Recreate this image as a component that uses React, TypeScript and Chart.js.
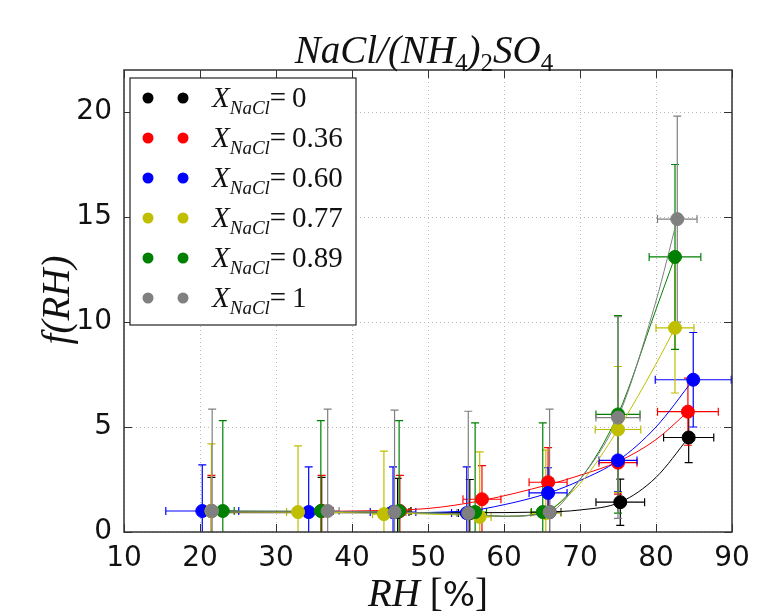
import React, { useEffect, useRef } from 'react';
import { Chart, registerables } from 'chart.js';
Chart.register(...registerables);

// ---- data ----
const seriesLabels = ['0', '0.36', '0.60', '0.77', '0.89', '1'];
const seriesColors = ['#000000', '#ff0000', '#0000ff', '#bfbf00', '#008000', '#808080'];

const rhBlack = [21.5, 36.0, 46.0, 55.5, 66.0, 75.3, 84.3];
const fBlack = [1.0, 1.0, 0.95, 0.9, 0.95, 1.42, 4.5];
const rhErrBlack = [1.5, 1.5, 1.5, 1.5, 1.5, 3.2, 3.3];
const fErrBlack = [1.6, 1.6, 1.6, 1.6, 1.6, 1.1, 1.2];
const fitRhBlack = [21.5, 40, 55, 65, 70, 75.3, 80, 84.3];
const fitFBlack = [0.92, 0.92, 0.92, 0.95, 1.05, 1.42, 2.6, 4.5];

const rhRed = [21.5, 36.0, 46.3, 57.1, 65.8, 75.0, 84.2];
const fRed = [1.0, 1.0, 1.0, 1.56, 2.37, 3.3, 5.73];
const rhErrRed = [1.5, 1.5, 1.5, 2.5, 2.5, 2.5, 4.0];
const fErrRed = [1.7, 1.7, 1.7, 1.6, 1.65, 1.5, 1.6];
const fitRhRed = [20, 40, 50, 57.1, 65.8, 70, 75, 80, 84.2];
const fitFRed = [0.95, 1.0, 1.12, 1.5, 2.25, 2.7, 3.35, 4.4, 5.73];

const rhBlue = [20.3, 34.3, 45.4, 55.1, 65.8, 75.0, 84.9];
const fBlue = [1.0, 0.95, 0.95, 0.9, 1.86, 3.41, 7.25];
const rhErrBlue = [4.8, 2.0, 3.0, 2.0, 2.5, 2.5, 5.0];
const fErrBlue = [2.2, 2.15, 2.15, 2.2, 1.2, 1.5, 2.25];
const fitRhBlue = [20.3, 45, 55, 60, 65.8, 70, 75, 80, 84.9];
const fitFBlue = [0.95, 0.92, 1.0, 1.3, 1.85, 2.45, 3.4, 5.0, 7.25];

const rhYellow = [21.5, 32.9, 44.2, 56.8, 65.5, 75.0, 82.5];
const fYellow = [1.0, 0.95, 0.85, 0.72, 0.9, 4.88, 9.72];
const rhErrYellow = [1.5, 1.5, 1.5, 1.5, 2.0, 3.0, 2.5];
const fErrYellow = [3.2, 3.15, 3.0, 3.1, 3.0, 3.0, 3.1];
const fitRhYellow = [21.5, 45, 55, 60, 65.5, 70, 75, 80, 82.5];
const fitFYellow = [0.95, 0.9, 0.8, 0.75, 1.0, 2.3, 4.88, 8.0, 9.72];

const rhGreen = [23.0, 35.9, 46.2, 56.2, 65.1, 75.0, 82.5];
const fGreen = [1.0, 1.0, 1.0, 0.95, 0.95, 5.6, 13.1];
const rhErrGreen = [1.5, 1.5, 1.5, 1.5, 1.5, 2.9, 3.4];
const fErrGreen = [4.3, 4.3, 4.3, 4.25, 4.25, 4.7, 4.4];
const fitRhGreen = [23, 45, 55, 60, 65.1, 70, 75, 80, 82.5];
const fitFGreen = [1.0, 0.95, 0.85, 0.75, 0.9, 2.5, 5.6, 10.6, 13.1];

const rhGray = [21.6, 36.8, 45.6, 55.3, 66.0, 75.0, 82.8];
const fGray = [1.0, 1.0, 0.95, 0.9, 0.95, 5.45, 14.9];
const rhErrGray = [1.5, 1.5, 1.5, 1.5, 1.5, 2.9, 2.6];
const fErrGray = [4.85, 4.85, 4.85, 4.85, 4.9, 4.8, 4.9];
const fitRhGray = [21.6, 45, 55, 60, 66, 70, 75, 80, 82.8];
const fitFGray = [1.0, 0.95, 0.85, 0.75, 0.95, 2.5, 5.45, 11.0, 14.9];

const xTicks = [10, 20, 30, 40, 50, 60, 70, 80, 90];
const yTicks = [0, 5, 10, 15, 20];

const series = [
  { rh: rhBlack, f: fBlack, rhErr: rhErrBlack, fErr: fErrBlack, fitRh: fitRhBlack, fitF: fitFBlack },
  { rh: rhRed, f: fRed, rhErr: rhErrRed, fErr: fErrRed, fitRh: fitRhRed, fitF: fitFRed },
  { rh: rhBlue, f: fBlue, rhErr: rhErrBlue, fErr: fErrBlue, fitRh: fitRhBlue, fitF: fitFBlue },
  { rh: rhYellow, f: fYellow, rhErr: rhErrYellow, fErr: fErrYellow, fitRh: fitRhYellow, fitF: fitFYellow },
  { rh: rhGreen, f: fGreen, rhErr: rhErrGreen, fErr: fErrGreen, fitRh: fitRhGreen, fitF: fitFGreen },
  { rh: rhGray, f: fGray, rhErr: rhErrGray, fErr: fErrGray, fitRh: fitRhGray, fitF: fitFGray },
].map((s, i) => ({ ...s, label: seriesLabels[i], color: seriesColors[i] }));

const SERIF = '"Liberation Serif", "DejaVu Serif", serif';
const SANS = '"DejaVu Sans", "Noto Sans", sans-serif';

type Part = { text: string; font: string; dy?: number };
function drawParts(ctx: CanvasRenderingContext2D, parts: Part[], x: number, y: number, align: 'left' | 'center') {
  ctx.textBaseline = 'alphabetic';
  ctx.textAlign = 'left';
  let total = 0;
  for (const p of parts) { ctx.font = p.font; total += ctx.measureText(p.text).width; }
  let cx = align === 'center' ? x - total / 2 : x;
  for (const p of parts) {
    ctx.font = p.font;
    ctx.fillText(p.text, cx, y + (p.dy || 0));
    cx += ctx.measureText(p.text).width;
  }
}

const decorPlugin = {
  id: 'decor',
  beforeDatasetsDraw(chart: any) {
    const { ctx, chartArea: a, scales } = chart;
    const xs = scales.x, ys = scales.y;
    ctx.save();
    // grid
    ctx.strokeStyle = '#b8b8b8';
    ctx.lineWidth = 1;
    ctx.setLineDash([1, 3]);
    for (const t of xTicks) {
      const px = Math.round(xs.getPixelForValue(t)) + 0.5;
      ctx.beginPath(); ctx.moveTo(px, a.top); ctx.lineTo(px, a.bottom); ctx.stroke();
    }
    for (const t of yTicks) {
      const py = Math.round(ys.getPixelForValue(t)) + 0.5;
      ctx.beginPath(); ctx.moveTo(a.left, py); ctx.lineTo(a.right, py); ctx.stroke();
    }
    ctx.setLineDash([]);
    // error bars
    ctx.beginPath(); ctx.rect(a.left, a.top, a.right - a.left, a.bottom - a.top); ctx.clip();
    const cap = 4;
    for (const s of series) {
      ctx.strokeStyle = s.color;
      ctx.lineWidth = 1.2;
      s.rh.forEach((rh, i) => {
        const px = xs.getPixelForValue(rh);
        const py = ys.getPixelForValue(s.f[i]);
        const y1 = ys.getPixelForValue(s.f[i] - s.fErr[i]);
        const y2 = ys.getPixelForValue(s.f[i] + s.fErr[i]);
        const x1 = xs.getPixelForValue(rh - s.rhErr[i]);
        const x2 = xs.getPixelForValue(rh + s.rhErr[i]);
        ctx.beginPath();
        ctx.moveTo(px, y1); ctx.lineTo(px, y2);
        ctx.moveTo(px - cap, y1); ctx.lineTo(px + cap, y1);
        ctx.moveTo(px - cap, y2); ctx.lineTo(px + cap, y2);
        ctx.moveTo(x1, py); ctx.lineTo(x2, py);
        ctx.moveTo(x1, py - cap); ctx.lineTo(x1, py + cap);
        ctx.moveTo(x2, py - cap); ctx.lineTo(x2, py + cap);
        ctx.stroke();
      });
    }
    ctx.restore();
  },
  afterDraw(chart: any) {
    const { ctx, chartArea: a, scales } = chart;
    const xs = scales.x, ys = scales.y;
    ctx.save();
    // frame
    ctx.strokeStyle = '#333';
    ctx.lineWidth = 1.5;
    ctx.strokeRect(a.left, a.top, a.right - a.left, a.bottom - a.top);
    // inward ticks
    ctx.lineWidth = 1;
    const tl = 8;
    for (const t of xTicks) {
      const px = Math.round(xs.getPixelForValue(t)) + 0.5;
      ctx.beginPath();
      ctx.moveTo(px, a.bottom); ctx.lineTo(px, a.bottom - tl);
      ctx.moveTo(px, a.top); ctx.lineTo(px, a.top + tl);
      ctx.stroke();
    }
    for (const t of yTicks) {
      const py = Math.round(ys.getPixelForValue(t)) + 0.5;
      ctx.beginPath();
      ctx.moveTo(a.left, py); ctx.lineTo(a.left + tl, py);
      ctx.moveTo(a.right, py); ctx.lineTo(a.right - tl, py);
      ctx.stroke();
    }
    ctx.fillStyle = '#111';
    // title
    const big = `italic 39px ${SERIF}`;
    const sub = `25px ${SERIF}`;
    drawParts(ctx, [
      { text: 'NaCl/(NH', font: big },
      { text: '4', font: sub, dy: 8 },
      { text: ')', font: big },
      { text: '2', font: sub, dy: 8 },
      { text: 'SO', font: big },
      { text: '4', font: sub, dy: 8 },
    ], 424, 63, 'center');
    // x label
    drawParts(ctx, [
      { text: 'RH', font: `italic 39px ${SERIF}` },
      { text: ' [', font: `39px ${SERIF}` },
      { text: '%', font: `34px ${SANS}` },
      { text: ']', font: `39px ${SERIF}` },
    ], 428, 606, 'center');
    // y label
    ctx.save();
    ctx.translate(69, 300);
    ctx.rotate(-Math.PI / 2);
    drawParts(ctx, [{ text: 'f(RH)', font: `italic 39px ${SERIF}` }], 0, 0, 'center');
    ctx.restore();
    // legend
    const lx = 130, ly = 78, lw = 226, lh = 247;
    ctx.fillStyle = '#ffffff';
    ctx.fillRect(lx, ly, lw, lh);
    ctx.strokeStyle = '#222';
    ctx.lineWidth = 1.2;
    ctx.strokeRect(lx, ly, lw, lh);
    series.forEach((s, i) => {
      const cy = 98 + i * 40;
      ctx.fillStyle = s.color;
      for (const mx of [148, 183]) {
        ctx.beginPath(); ctx.arc(mx, cy, 5.5, 0, Math.PI * 2); ctx.fill();
      }
      ctx.fillStyle = '#111';
      drawParts(ctx, [
        { text: 'X', font: `italic 29px ${SERIF}` },
        { text: 'NaCl', font: `italic 19px ${SERIF}`, dy: 7 },
        { text: '=\u2009' + s.label, font: `29px ${SERIF}` },
      ], 212, cy + 9, 'left');
    });
    ctx.restore();
  },
};

export default function App() {
  const ref = useRef<HTMLCanvasElement | null>(null);
  useEffect(() => {
    document.body.style.margin = '0';
    const canvas = ref.current!;
    const datasets: any[] = [];
    series.forEach((s, i) => {
      datasets.push({
        type: 'line',
        label: 'fit ' + s.label,
        data: s.fitRh.map((x, k) => ({ x, y: s.fitF[k] })),
        borderColor: s.color,
        borderWidth: 1,
        pointRadius: 0,
        cubicInterpolationMode: 'monotone',
        fill: false,
        order: 20 - i,
      });
      datasets.push({
        type: 'scatter',
        label: 'X_NaCl=' + s.label,
        data: s.rh.map((x, k) => ({ x, y: s.f[k] })),
        backgroundColor: s.color,
        borderColor: s.color,
        borderWidth: 1,
        pointRadius: 6.5,
        showLine: false,
        order: 10 - i,
      });
    });
    const chart = new Chart(canvas, {
      type: 'scatter',
      data: { datasets },
      options: {
        responsive: false,
        animation: false,
        layout: { padding: { left: 0, right: 36, top: 70, bottom: 0 } },
        plugins: { legend: { display: false }, tooltip: { enabled: false }, title: { display: false } },
        scales: {
          x: {
            type: 'linear', min: 10, max: 90,
            ticks: { stepSize: 10, font: { family: SANS, size: 28 }, color: '#111', padding: 2, maxRotation: 0 },
            grid: { display: false },
            border: { display: false },
            afterBuildTicks: (sc: any) => { sc.ticks = xTicks.map((v) => ({ value: v })); },
            afterFit: (sc: any) => { sc.height = 83; },
          },
          y: {
            type: 'linear', min: 0, max: 22,
            ticks: { stepSize: 5, font: { family: SANS, size: 28 }, color: '#111', padding: 4 },
            grid: { display: false },
            border: { display: false },
            afterBuildTicks: (sc: any) => { sc.ticks = yTicks.map((v) => ({ value: v })); },
            afterFit: (sc: any) => { sc.width = 124; },
          },
        },
      } as any,
      plugins: [decorPlugin],
    });
    return () => chart.destroy();
  }, []);
  return (
    <div style={{ width: 768, height: 615, background: '#fff' }}>
      <canvas ref={ref} width={768} height={615} />
    </div>
  );
}
